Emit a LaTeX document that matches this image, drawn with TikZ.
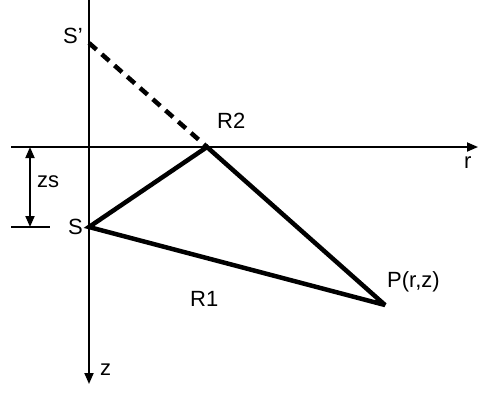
\documentclass[tikz,border=0pt]{standalone}
\usepackage{fontspec}
\setmainfont{Liberation Sans}
\usetikzlibrary{arrows.meta,positioning}
\tikzset{axis/.style={line width=1.8pt,-{Triangle[length=11pt,width=9pt]}}, edge/.style={line width=4.5pt,line join=miter,miter limit=3}, mirror/.style={line width=4.5pt,dash pattern=on 10pt off 7pt}, dim/.style={line width=1.8pt,{Triangle[length=11pt,width=9pt]}-{Triangle[length=11pt,width=9pt]}}, lbl/.style={font=\fontsize{22}{24}\selectfont,inner sep=0pt,anchor=base west}}

\begin{document}
\begin{tikzpicture}[x=1pt,y=-1pt]
\useasboundingbox (0,0) rectangle (478,392);
\coordinate (ztop) at (89,0);\coordinate (zend) at (89,384);
\coordinate (rbeg) at (11,147);\coordinate (rend) at (478,147);
\coordinate (sp) at (89,43);\coordinate (s) at (89,227);
\coordinate (r2) at (207,147);\coordinate (p) at (385,305);
\coordinate (tick1) at (11,227);\coordinate (tick2) at (50,227);
\coordinate (zs1) at (30,147);\coordinate (zs2) at (30,227);
\draw[axis] (rbeg)--(rend);\draw[axis] (ztop)--(zend);
\draw[line width=1.8pt] (tick1)--(tick2);\draw[dim] (zs1)--(zs2);
\draw[mirror] (sp)--(r2);
\draw[edge] (s)--(r2)--(p)--cycle;
\node[lbl] (lsp) at (63,43) {S’};
\node[lbl] (lr2) at (217,128) {R2};
\node[lbl] (ls) at (68,234) {S};
\node[lbl] (lzs) at (37,187) {zs};
\node[lbl] (lr) at (464,168) {r};
\node[lbl] (lp) at (387,287) {P(r,z)};
\node[lbl] (lr1) at (190,306) {R1};
\node[lbl] (lz) at (100,375) {z};
\end{tikzpicture}
\end{document}
